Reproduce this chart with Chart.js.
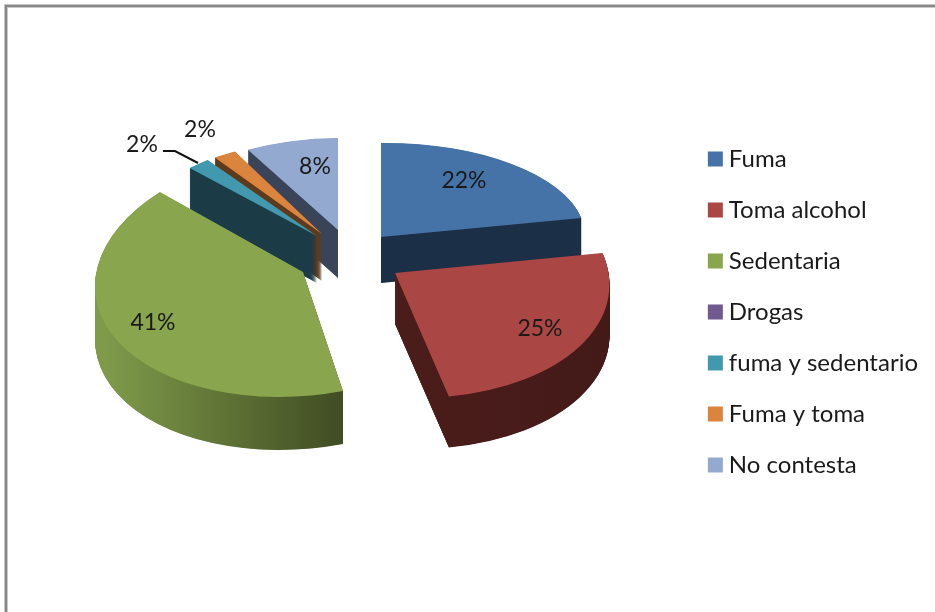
<!DOCTYPE html>
<html><head><meta charset="utf-8">
<style>
html,body{margin:0;padding:0;background:#fff;width:935px;height:612px;overflow:hidden}
#frame{position:absolute;left:5px;top:5px;width:930px;height:607px;border-left:2px solid #868686;border-top:2px solid #868686;box-shadow:inset 1px 1px 0 #c8c8c8,-1px -1px 0 #c8c8c8}
canvas{position:absolute;left:0;top:0}
</style>
<script src="https://cdn.jsdelivr.net/npm/chart.js@4/dist/chart.umd.js"></script>
</head><body>
<div id="frame"></div>
<canvas id="c" width="935" height="612"></canvas>
<script>
const categories = ["Fuma","Toma alcohol","Sedentaria","Drogas","fuma y sedentario","Fuma y toma","No contesta"];
const percentages = [22,25,41,0,2,2,8];
const topColors = ["#4573a7","#aa4643","#89a54e","#71588f","#4198af","#db843d","#93a9cf"];
const wallStops = [
  [["#1b2f47",0],["#1b2f47",1]],
  [["#521f1c",0],["#431a18",1]],
  [["#7f9b4a",0],["#7f9b4a",0.02],["#3f4b22",0.6],["#3f4b22",1]],
  [["#3b2f4d",0],["#3b2f4d",1]],
  [["#1b3b47",0],["#1b3b47",1]],
  [["#5e3a1c",0],["#5e3a1c",1]],
  [["#3a4459",0],["#3a4459",1]]
];
// per-slice projection of the unit pie: [a,b,c,d,apexX,apexY,depth]
const projection = [
  [204,-1.4,0,94,381,237,46],
  [214,3.6,14,125,395,273,51],
  [208,-15,1,124,303,272,53],
  [187,0,0,96,318,236,47],
  [186,-3,0,96,317,236,47],
  [188,2,-4,93,322,234,47],
  [187,-1,0,92,338,230,48]
];
const drawOrder = [6,5,4,0,3,2,1];
const labelAt = [[464,181],[540,329],[153,323],null,[142,145],[200,130],[315,167]];
const leader = [[163,151],[175,151],[198,163]];

const pie3d = {
  id:'pie3d',
  beforeDatasetsDraw(chart){
    const ctx = chart.ctx, arcs = chart.getDatasetMeta(0).data;
    drawOrder.forEach(i=>{
      const el = arcs[i];
      if(!percentages[i]) return;
      const [a,b,c,d,ex,ey,depth] = projection[i];
      const R = el.outerRadius, cx = el.x, cy = el.y;
      const put = (dy,fill)=>{
        ctx.save();
        ctx.transform(a/R,b/R,c/R,d/R,ex,ey+dy);
        ctx.translate(-cx,-cy);
        const p = Object.create(el);
        p.options = Object.assign({},el.options,{backgroundColor:fill,borderWidth:0});
        p.draw(ctx);
        ctx.restore();
      };
      const g = ctx.createLinearGradient(cx-R,0,cx+R,0);
      wallStops[i].forEach(([col,t])=>g.addColorStop(t,col));
      for(let dy=depth;dy>0;dy-=0.5) put(dy,g);
      put(0,topColors[i]);
    });
    return false;
  },
  afterDraw(chart){
    const ctx = chart.ctx;
    ctx.save();
    ctx.strokeStyle='#111'; ctx.lineWidth=2;
    ctx.beginPath();
    leader.forEach(([x,y],k)=>k?ctx.lineTo(x,y):ctx.moveTo(x,y));
    ctx.stroke();
    ctx.fillStyle='#1a1a1a';
    ctx.font='23px Lato';
    ctx.textAlign='center'; ctx.textBaseline='middle';
    percentages.forEach((v,i)=>{ if(labelAt[i]) ctx.fillText(v+'%',labelAt[i][0],labelAt[i][1]); });
    ctx.restore();
  }
};

new Chart(document.getElementById('c'),{
  type:'pie',
  data:{labels:categories,datasets:[{data:percentages,backgroundColor:topColors,borderWidth:0}]},
  options:{
    responsive:false,animation:false,
    layout:{padding:{right:7,top:12}},
    plugins:{
      tooltip:{enabled:false},
      legend:{position:'right',align:'center',
        labels:{font:{family:'Lato',size:24},color:'#1a1a1a',usePointStyle:true,pointStyle:'rect',boxWidth:3,boxHeight:15,padding:27}}
    }
  },
  plugins:[pie3d]
});
</script>
</body></html>
